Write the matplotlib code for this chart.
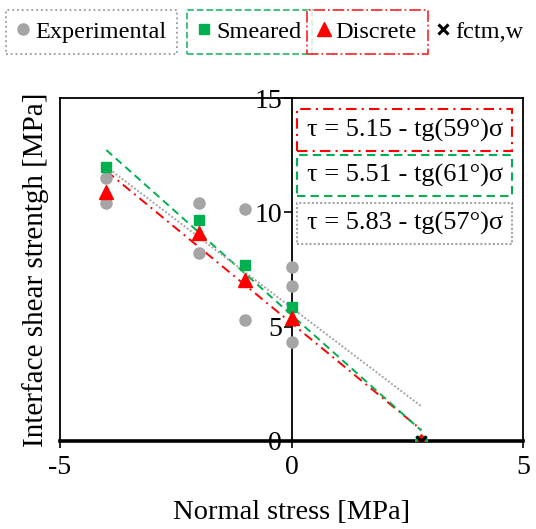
import matplotlib
matplotlib.use("Agg")
import matplotlib.pyplot as plt
import numpy as np

plt.rcParams['font.family'] = ['Liberation Serif', 'DejaVu Serif']

# experimental shear strengths at each normal stress
exp_x = [-4, -4, -2, -2, -1, -1, 0, 0, 0, 2.8]
exp_y = [11.5, 10.4, 10.4, 8.2, 10.15, 5.3, 7.6, 6.8, 4.33, 0]

# numerical results
sm_x = [-4, -2, -1, 0, 2.8]
sm_y = [12.0, 9.67, 7.7, 5.86, 0]
di_x = [-4, -2, -1, 0, 2.8]
di_y = [10.9, 9.1, 7.05, 5.38, 0]

fctm_x = [2.8]
fctm_y = [0]

# Mohr-Coulomb fits: tau = c - tan(phi) * sigma
fits = [
    ("Discrete", 5.15, 59, 'red', (0, (5, 2.5, 1, 2.5)), 13.59),
    ("Smeared", 5.51, 61, '#00B050', (0, (4, 2.5)), 11.62),
    ("Experimental", 5.83, 57, '#A5A5A5', (0, (1, 1)), 9.52),
]
fit_range = [-4, 2.8]

fig = plt.figure(figsize=(5.36, 5.29), dpi=100)
ax = fig.add_axes([0.112, 0.1664, 0.864, 0.6483])

for name, c, phi, col, ls, ty in fits:
    xs = np.array(fit_range)
    ax.plot(xs, c - np.tan(np.radians(phi)) * xs, color=col, ls=ls, lw=1.4, zorder=2)

ax.plot(exp_x, exp_y, 'o', color='#A5A5A5', ms=8, zorder=3)
ax.plot(sm_x, sm_y, 's', color='#00B050', ms=7, zorder=4)
ax.plot(di_x, di_y, '^', color='red', ms=10, zorder=5)
ax.plot(fctm_x, fctm_y, 'x', color='black', ms=7, mew=2.2, zorder=6)

for name, c, phi, col, ls, ty in fits:
    ax.text(2.44, ty, "τ = %.2f - tg(%d°)σ" % (c, phi), fontsize=19,
            ha='center', va='center', zorder=7,
            bbox=dict(boxstyle='square,pad=0.35', fc='white', ec=col, ls=ls, lw=1.5))

ax.set_xlim(-5, 5)
ax.set_ylim(0, 15)
ax.set_xticks([-5, 0, 5])
ax.set_xticklabels(['-5', '0', '5'])
ax.set_yticks([0, 5, 10, 15])

# y axis crosses at sigma = 0, box drawn around the plot area
ax.spines['left'].set_position(('data', 0))
ax.spines['left'].set_linewidth(1.3)
ax.spines['right'].set_linewidth(1.3)
ax.spines['top'].set_linewidth(1.3)
ax.spines['bottom'].set_linewidth(2.6)
ax.plot([0, 0], [0, 1], transform=ax.transAxes, color='black', lw=1.3, clip_on=False)

ax.tick_params(axis='y', direction='out', length=6, width=1.2, labelsize=20, pad=1)
ax.tick_params(axis='x', direction='out', length=5, width=1.2, labelsize=20, pad=5)

ax.set_xlabel("Normal stress [MPa]", fontsize=20.5)
ax.xaxis.set_label_coords(0.5, -0.172)
ax.set_ylabel("Interface shear strentgh [MPa]", fontsize=21)
ax.yaxis.set_label_coords(-0.024, 0.5)

# legend entries, each in its own styled frame
entries = [
    ('o', '#A5A5A5', 8, "Experimental", '#808080', ':', 0.011),
    ('s', '#00B050', 7, "Smeared", '#00B050', '--', 0.349),
    ('^', 'red', 10, "Discrete", 'red', '-.', 0.572),
    ('x', 'black', 7, "fctm,w", None, None, 0.795),
]
for mk, col, ms, label, ec, ls, xpos in entries:
    h, = ax.plot([], [], mk, color=col, ms=ms, mew=2.2 if mk == 'x' else 1)
    leg = fig.legend([h], [label], loc='center left', bbox_to_anchor=(xpos, 0.94),
                     fontsize=17.5, handlelength=0.5, handletextpad=0.25,
                     borderpad=0.45, borderaxespad=0, fancybox=False,
                     frameon=ec is not None)
    if ec is not None:
        fr = leg.get_frame()
        fr.set_edgecolor(ec)
        fr.set_linestyle(ls)
        fr.set_linewidth(1.3)

fig.savefig("out.png", dpi=100)
